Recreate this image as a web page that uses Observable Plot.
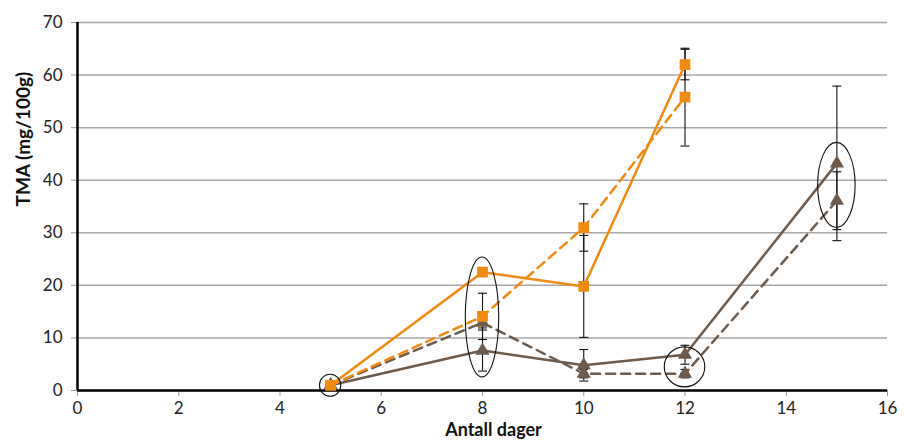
<!DOCTYPE html>
<html>
<head>
<meta charset="utf-8">
<script src="https://cdn.jsdelivr.net/npm/d3@7"></script>
<script src="https://cdn.jsdelivr.net/npm/@observablehq/plot@0.6"></script>
<style>
  html, body { margin: 0; padding: 0; background: #fff; }
  #chart { width: 904px; height: 443px; }
</style>
</head>
<body>
<div id="chart"></div>
<script>
const days = [5, 8, 10, 12, 15];
const seriesNames = ["orangeSolid", "orangeDashed", "brownSolid", "brownDashed"];
const orangeSolid  = [1, 22.5, 19.8, 62.0, null];
const orangeDashed = [1, 14.1, 31.0, 55.8, null];
const brownSolid   = [1, 7.6, 4.8, 6.8, 43.2];
const brownDashed  = [1, 12.9, 3.2, 3.2, 36.1];
const orangeSolidErr  = [null, null, 9.7, 2.9, null];
const orangeDashedErr = [null, 4.4, 4.5, 9.3, null];
const brownSolidErr   = [null, 3.9, 3.0, 1.8, 14.7];
const brownDashedErr  = [null, 1.0, 0.8, 0.8, 5.5];
const xTicks = [0, 2, 4, 6, 8, 10, 12, 14, 16];
const yTicks = [0, 10, 20, 30, 40, 50, 60, 70];
// highlighted groups (ellipses): center day, center value, half-width (days), half-height (value)
const ellipseDay = [5, 8, 12, 15];
const ellipseVal = [0.9, 13.9, 4.4, 39.0];
const ellipseRx  = [0.21, 0.33, 0.40, 0.37];
const ellipseRy  = [2.1, 11.4, 3.8, 8.1];

const orange = "#F18A12";
const brown = "#6E5B4C";

const valuesBy = {orangeSolid, orangeDashed, brownSolid, brownDashed};
const errBy = {orangeSolid: orangeSolidErr, orangeDashed: orangeDashedErr, brownSolid: brownSolidErr, brownDashed: brownDashedErr};
const rows = [];
for (const s of seriesNames) {
  days.forEach((d, i) => {
    const v = valuesBy[s][i];
    if (v == null) return;
    const e = errBy[s][i];
    rows.push({series: s, day: d, value: v, lo: e == null ? null : v - e, hi: e == null ? null : v + e});
  });
}
const errRows = rows.filter(r => r.lo != null);
const capRows = errRows.flatMap(r => [{day: r.day, v: r.lo}, {day: r.day, v: r.hi}]);
const ellipses = ellipseDay.map((d, i) => ({day: d, val: ellipseVal[i], rx: ellipseRx[i], ry: ellipseRy[i]}));

const capSymbol = {draw(context) { context.moveTo(-4.5, 0); context.lineTo(4.5, 0); }};

const sel = s => rows.filter(r => r.series === s);

const ellipseMark = (index, scales, values, dimensions, context) => {
  const g = d3.create("svg:g");
  for (const e of ellipses) {
    const cx = scales.x(e.day), cy = scales.y(e.val);
    const rx = Math.abs(scales.x(e.day + e.rx) - cx);
    const ry = Math.abs(scales.y(e.val + e.ry) - cy);
    g.append("ellipse").attr("cx", cx).attr("cy", cy).attr("rx", rx).attr("ry", ry)
      .attr("fill", "none").attr("stroke", "#111").attr("stroke-width", 1.1);
  }
  return g.node();
};

const chart = Plot.plot({
  width: 904,
  height: 443,
  marginLeft: 77,
  marginRight: 17,
  marginTop: 22,
  marginBottom: 53,
  style: {fontFamily: "Lato, 'Open Sans', sans-serif", fontSize: "17px", color: "#222", background: "#fff"},
  x: {domain: [0, 16]},
  y: {domain: [0, 70]},
  marks: [
    Plot.gridY(yTicks, {stroke: "#a8a8a8", strokeWidth: 1.5, strokeOpacity: 1}),
    Plot.axisY(yTicks, {tickSize: 6, tickPadding: 9, stroke: "#999", label: null, fontSize: 17}),
    Plot.axisX(xTicks, {tickSize: 6, tickPadding: 5, stroke: "#999", label: null, fontSize: 17}),
    Plot.ruleY([0], {stroke: "#000", strokeWidth: 2.5}),
    Plot.ruleX([0], {stroke: "#000", strokeWidth: 2.5}),
    Plot.ruleX(errRows, {x: "day", y1: "lo", y2: "hi", stroke: "#111", strokeWidth: 1.1}),
    Plot.dot(capRows, {x: "day", y: "v", symbol: capSymbol, stroke: "#111", strokeWidth: 1.1, fill: "none"}),
    Plot.line(sel("brownSolid"), {x: "day", y: "value", stroke: brown, strokeWidth: 2.5}),
    Plot.line(sel("brownDashed"), {x: "day", y: "value", stroke: brown, strokeWidth: 2.5, strokeDasharray: "9,6"}),
    Plot.line(sel("orangeSolid"), {x: "day", y: "value", stroke: orange, strokeWidth: 2.5}),
    Plot.line(sel("orangeDashed"), {x: "day", y: "value", stroke: orange, strokeWidth: 2.5, strokeDasharray: "9,6"}),
    Plot.dot(sel("brownSolid").concat(sel("brownDashed")), {x: "day", y: "value", symbol: "triangle", r: 4.3, fill: brown, stroke: brown}),
    Plot.dot(sel("orangeSolid").concat(sel("orangeDashed")), {x: "day", y: "value", symbol: "square", r: 5.2, fill: orange, stroke: orange}),
    ellipseMark,
    Plot.text(["TMA (mg/100g)"], {frameAnchor: "left", dx: -54, rotate: -90, fontWeight: "bold", fontSize: 19, fill: "#111"}),
    Plot.text(["Antall dager"], {frameAnchor: "bottom", dx: 11, dy: 45, fontWeight: "bold", fontSize: 18, fill: "#111"})
  ]
});
document.getElementById("chart").appendChild(chart);
</script>
</body>
</html>
